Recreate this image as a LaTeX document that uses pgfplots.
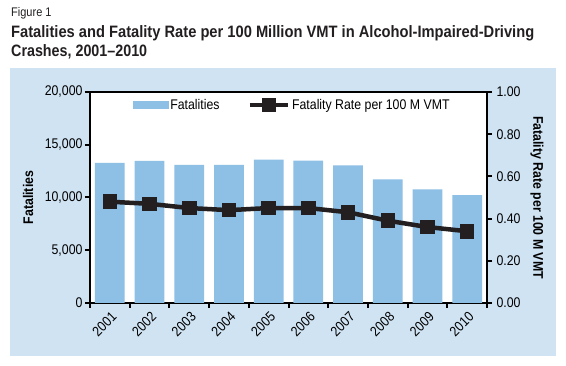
\documentclass[border=0pt]{standalone}
\usepackage{fontspec}
\setmainfont{Liberation Sans}
\newfontfamily\cond{Liberation Sans}[FakeStretch=0.88]
\usepackage{graphicx}
\usepackage{pgfplots}
\pgfplotsset{compat=1.18}
\definecolor{panel}{RGB}{208,227,243}
\definecolor{barblue}{RGB}{142,192,230}
\definecolor{titlec}{RGB}{35,31,32}
\begin{document}
\begin{tikzpicture}[x=1pt,y=1pt]
\path[use as bounding box] (0,0) rectangle (566,366);
\fill[panel] (10,10) rectangle (556,298);
\node[anchor=base west,inner sep=0,text=titlec] at (11,349) {\cond\fontsize{12.5}{14}\selectfont Figure 1};
\node[anchor=base west,inner sep=0,text=titlec] at (11,328) {\resizebox{523pt}{\height}{\fontsize{16.5}{18}\selectfont\bfseries Fatalities and Fatality Rate per 100 Million VMT in Alcohol-Impaired-Driving}};
\node[anchor=base west,inner sep=0,text=titlec] at (11,309) {\resizebox{136pt}{\height}{\fontsize{16.5}{18}\selectfont\bfseries Crashes, 2001--2010}};
\begin{axis}[
  at={(90pt,63pt)}, anchor=south west,
  scale only axis, width=397pt, height=211pt,
  xmin=-0.5, xmax=9.5, ymin=0, ymax=20000,
  axis background/.style={fill=white},
  axis line style={line width=2.5pt, black},
  xtick={0,...,9},
  xticklabels={2001,2002,2003,2004,2005,2006,2007,2008,2009,2010},
  minor xtick={-0.5,0.5,...,9.5},
  major x tick style={draw=none},
  minor tick length=5pt, major tick length=5pt,
  tick align=outside,
  tick style={line width=2pt, black},
  xtick pos=left, ytick pos=left,
  ytick={0,5000,10000,15000,20000},
  scaled y ticks=false,
  yticklabel style={/pgf/number format/1000 sep={,}, font=\cond\fontsize{14}{16}\selectfont, xshift=1pt},
  xticklabel style={rotate=45, anchor=north east, font=\cond\fontsize{14}{16}\selectfont, xshift=2pt, yshift=1pt},
  /pgf/number format/assume math mode=true,
  ylabel={\cond\fontsize{14}{16}\selectfont\bfseries Fatalities},
  ylabel style={at={(axis description cs:-0.156,0.5)}, anchor=center},
]
\addplot[ybar, bar width=0.75, fill=barblue, draw=none] coordinates {
(0,13290) (1,13472) (2,13096) (3,13099) (4,13582) (5,13491) (6,13041) (7,11711) (8,10759) (9,10228)};
\end{axis}
\begin{axis}[
  at={(90pt,63pt)}, anchor=south west,
  scale only axis, width=397pt, height=211pt,
  xmin=-0.5, xmax=9.5, ymin=0, ymax=1,
  axis x line=none, axis y line*=right,
  axis line style={line width=2.5pt, black},
  ytick={0,0.2,0.4,0.6,0.8,1.0},
  tick align=outside, major tick length=5pt,
  tick style={line width=2pt, black},
  yticklabel style={/pgf/number format/.cd, fixed, fixed zerofill, precision=2, /tikz/.cd, font=\cond\fontsize{14}{16}\selectfont, xshift=1pt},
  /pgf/number format/assume math mode=true,
  ylabel={\cond\fontsize{14}{16}\selectfont\bfseries Fatality Rate per 100 M VMT},
  ylabel style={at={(axis description cs:1.126,0.5)}, anchor=center, rotate=180},
  legend columns=2,
  legend style={at={(0.1,0.985)}, anchor=north west, draw=none, fill=none,
    font=\cond\fontsize{14}{16}\selectfont,
    /tikz/every even column/.style={column sep=26pt}},
  legend cell align=left,
]
\addlegendimage{legend image code/.code={\fill[barblue] (0pt,-3.5pt) rectangle (35pt,3.5pt);}}
\addlegendentry{Fatalities}
\addplot[line width=4.5pt, color=titlec, mark=square*, mark size=5pt,
  legend image code/.code={\draw[line width=4.5pt,titlec] (0pt,0pt) -- (38pt,0pt); \fill[titlec] (14pt,-5pt) rectangle (24pt,5pt);}]
coordinates {(0,0.48) (1,0.47) (2,0.45) (3,0.44) (4,0.45) (5,0.45) (6,0.43) (7,0.39) (8,0.36) (9,0.34)};
\addlegendentry{Fatality Rate per 100 M VMT}
\end{axis}
\end{tikzpicture}
\end{document}
